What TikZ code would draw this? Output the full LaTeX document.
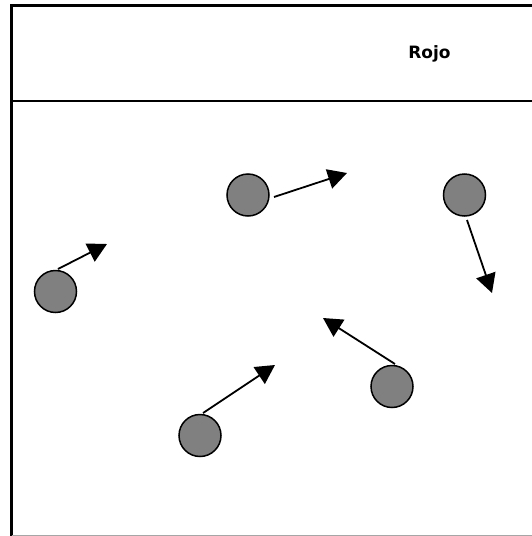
\documentclass[tikz,border=0pt]{standalone}
\usepackage{fontspec}
\setmainfont{DejaVu Sans}
\usetikzlibrary{arrows.meta}
\begin{document}
\begin{tikzpicture}[x=1pt,y=-1pt,
  ball/.style={circle,draw=black,line width=1.5pt,fill=ballgray,minimum size=42pt,inner sep=0pt},
  move/.style={line width=1.8pt,-{Triangle[length=19pt,width=20pt]}}]
\definecolor{ballgray}{HTML}{808080}
\useasboundingbox (0,0) rectangle (532,536);
\fill[white] (0,0) rectangle (532,536);
% frame
\draw[line width=3pt] (532,5.5) -- (11.5,5.5) -- (11.5,536);
\draw[line width=2pt] (11.5,100.5) -- (532,100.5);
\draw[line width=1pt,gray!70] (11.5,535.5) -- (532,535.5);
\node[font=\fontsize{17}{20}\selectfont\bfseries,inner sep=0pt] (title) at (429.5,54) {Rojo};
% balls
\node[ball] (b1) at (55.5,291.5) {};
\node[ball] (b2) at (248,195) {};
\node[ball] (b3) at (464.5,195) {};
\node[ball] (b4) at (392,386.5) {};
\node[ball] (b5) at (200,435.5) {};
% arrow ends
\coordinate (t1) at (107,244);
\coordinate (t2) at (347,173);
\coordinate (t3) at (492,293);
\coordinate (t4) at (323,318);
\coordinate (t5) at (275,365);
\draw[move] (58,269) -- (t1);
\draw[move] (274,197) -- (t2);
\draw[move] (467,220) -- (t3);
\draw[move] (395,364) -- (t4);
\draw[move] (203,413) -- (t5);
\end{tikzpicture}
\end{document}
